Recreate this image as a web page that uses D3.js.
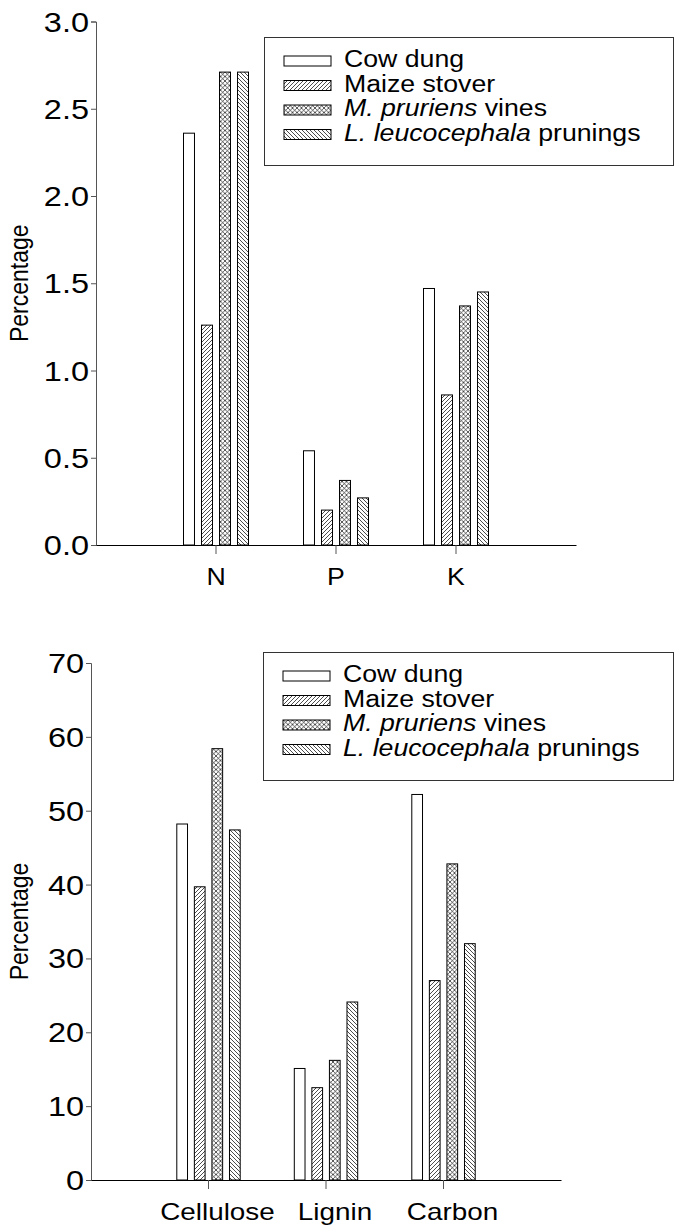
<!DOCTYPE html>
<html>
<head>
<meta charset="utf-8">
<script src="https://cdn.jsdelivr.net/npm/d3@7"></script>
<style>
  body { margin: 0; background: #fff; }
  svg { display: block; }
  text { font-family: "Liberation Sans", Arial, sans-serif; fill: #000; }
</style>
</head>
<body>
<svg id="chart" width="674" height="1226"></svg>
<script>
const series = ['Cow dung', 'Maize stover', 'M. pruriens vines', 'L. leucocephala prunings'];
// legend labels: [italic part, roman part]
const legendParts = [['', 'Cow dung'], ['', 'Maize stover'], ['M. pruriens', ' vines'], ['L. leucocephala', ' prunings']];

const nutrientCats = ['N', 'P', 'K'];
const nutrientValues = [
  [2.36, 0.54, 1.47],  // Cow dung
  [1.26, 0.20, 0.86],  // Maize stover
  [2.71, 0.37, 1.37],  // M. pruriens vines
  [2.71, 0.27, 1.45],  // L. leucocephala prunings
];
const nutrientTicks = [0, 0.5, 1.0, 1.5, 2.0, 2.5, 3.0];

const fibreCats = ['Cellulose', 'Lignin', 'Carbon'];
const fibreValues = [
  [48.2, 15.1, 52.2],
  [39.7, 12.5, 27.0],
  [58.4, 16.2, 42.8],
  [47.4, 24.1, 32.0],
];
const fibreTicks = [0, 10, 20, 30, 40, 50, 60, 70];

const FONT = 23;
const TICK_FONT = 28;
const STRETCH = 1.16;   // reference text is a bit wide
const AXIS = '#555';

const svg = d3.select('#chart');
const defs = svg.append('defs');

function hatch(id, size, width, paths) {
  const p = defs.append('pattern').attr('id', id)
    .attr('patternUnits', 'userSpaceOnUse').attr('width', size).attr('height', size);
  p.append('rect').attr('width', size).attr('height', size).attr('fill', '#fff');
  paths.forEach((d) => p.append('path').attr('d', d).attr('stroke', '#000').attr('stroke-width', width));
}
const fwd = (s) => `M-1,1 l2,-2 M0,${s} l${s},-${s} M${s - 1},${s + 1} l2,-2`;
const back = (s) => `M-1,${s - 1} l2,2 M0,0 l${s},${s} M${s - 1},-1 l2,2`;
hatch('fwd', 4, 0.7, [fwd(4)]);
hatch('back', 4, 0.7, [back(4)]);
hatch('cross', 4.5, 0.65, [fwd(4.5), back(4.5)]);
const fills = ['#fff', 'url(#fwd)', 'url(#cross)', 'url(#back)'];

function label(g, x, y, str, anchor, size) {
  return g.append('text')
    .attr('transform', `translate(${x},${y}) scale(${STRETCH},1)`)
    .attr('text-anchor', anchor || 'start')
    .attr('font-size', size || FONT)
    .text(str);
}

function drawPanel(o) {
  const g = svg.append('g');
  const y = d3.scaleLinear().domain([o.ticks[0], o.ticks[o.ticks.length - 1]]).range([o.y0, o.y1]);
  const x = d3.scaleBand().domain(o.cats).range([o.x0, o.x1]).paddingInner(0).paddingOuter(0.5);
  const inner = d3.scaleBand().domain(d3.range(series.length))
    .range([-o.groupHalf, o.groupHalf]).paddingInner(0.39);

  // bars
  o.values.forEach((vals, s) => {
    g.selectAll(null).data(vals).join('rect')
      .attr('x', (d, i) => x(o.cats[i]) + x.bandwidth() / 2 + inner(s))
      .attr('y', (d) => y(d))
      .attr('width', inner.bandwidth())
      .attr('height', (d) => y(0) - y(d))
      .attr('fill', fills[s])
      .attr('stroke', '#000')
      .attr('stroke-width', 1);
  });

  // y axis
  const ya = g.append('g').attr('transform', `translate(${o.x0},0)`)
    .call(d3.axisLeft(y).tickValues(o.ticks).tickSize(5).tickFormat(o.fmt));
  ya.select('.domain').attr('stroke', AXIS);
  ya.selectAll('.tick line').attr('stroke', AXIS);
  ya.selectAll('.tick text').remove();
  o.ticks.forEach((t) => label(g, o.x0 - 7, y(t) + 10, o.fmt(t), 'end', TICK_FONT));

  // x axis
  const xa = g.append('g').attr('transform', `translate(0,${o.y0})`)
    .call(d3.axisBottom(x).tickSize(9).tickSizeOuter(0));
  xa.select('.domain').attr('stroke', '#000');
  xa.selectAll('.tick line').attr('stroke', AXIS);
  xa.selectAll('.tick text').remove();
  o.cats.forEach((c) => label(g, x(c) + x.bandwidth() / 2 + o.labelShift, o.y0 + 40, c, 'middle', o.catFont));

  // y title
  g.append('text')
    .attr('transform', `translate(${o.titleX},${(o.y0 + o.y1) / 2}) rotate(-90) scale(1,${STRETCH})`)
    .attr('text-anchor', 'middle').attr('font-size', FONT)
    .text('Percentage');

  // legend
  const L = o.legend;
  g.append('rect').attr('x', L.x + 0.5).attr('y', L.y + 0.5).attr('width', L.w).attr('height', L.h)
    .attr('fill', '#fff').attr('stroke', '#333');
  legendParts.forEach((parts, s) => {
    const base = L.y + 30 + s * 24.5;
    g.append('rect').attr('x', L.x + 20).attr('y', base - 11).attr('width', 47).attr('height', 10)
      .attr('fill', fills[s]).attr('stroke', '#000');
    const t = label(g, L.x + 80, base, '');
    if (parts[0]) t.append('tspan').attr('font-style', 'italic').text(parts[0]);
    t.append('tspan').text(parts[1]);
  });
}

drawPanel({
  cats: nutrientCats, values: nutrientValues, ticks: nutrientTicks,
  fmt: d3.format('.1f'),
  x0: 96, x1: 576, y0: 545, y1: 21.5, groupHalf: 32.5, titleX: 28,
  labelShift: 0, catFont: 23,
  legend: { x: 264, y: 37, w: 409, h: 128 },
});

drawPanel({
  cats: fibreCats, values: fibreValues, ticks: fibreTicks,
  fmt: d3.format('d'),
  x0: 91, x1: 561, y0: 1180, y1: 663, groupHalf: 31.7, titleX: 28,
  labelShift: 9, catFont: 24,
  legend: { x: 263, y: 652, w: 410, h: 128 },
});
</script>
</body>
</html>
